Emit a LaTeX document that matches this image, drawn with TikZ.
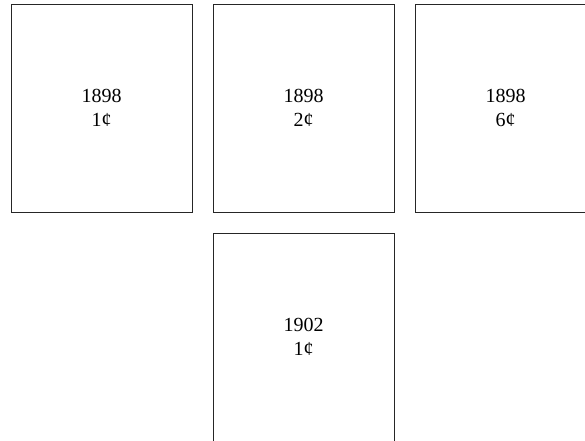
\documentclass[tikz,border=0pt]{standalone}
\usepackage{fontspec}
\setmainfont{Liberation Serif}
\begin{document}
\begin{tikzpicture}[x=1pt,y=-1pt,
  stamp/.style={draw=black!85,line width=1pt,minimum width=181pt,minimum height=208pt,
    inner sep=0pt,align=center,font=\fontsize{20pt}{24pt}\selectfont}]
\useasboundingbox (0,0) rectangle (585,440);
\node[stamp] (a) at (101.5,108) {1898\\1¢};
\node[stamp] (b) at (303.5,108) {1898\\2¢};
\node[stamp] (c) at (505.5,108) {1898\\6¢};
\node[stamp] (d) at (303.5,337) {1902\\1¢};
\end{tikzpicture}
\end{document}
